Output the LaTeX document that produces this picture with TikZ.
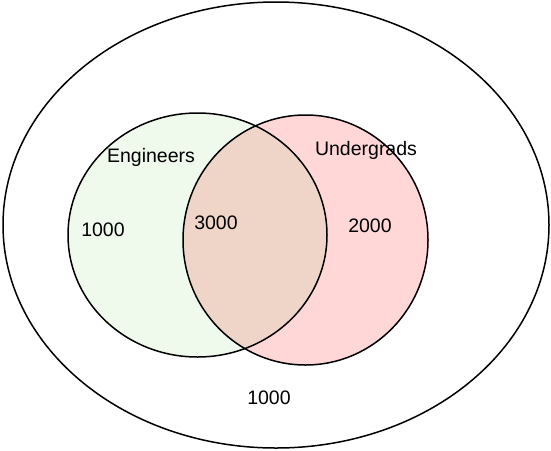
\documentclass[tikz,border=0pt]{standalone}
\usepackage{fontspec}
\setmainfont{Liberation Sans}
\usetikzlibrary{shapes.geometric}
\definecolor{enggreen}{HTML}{EFF9EC}
\definecolor{ugpink}{HTML}{FFD7D7}
\definecolor{overlapc}{HTML}{EFD5C8}
\tikzset{
  setline/.style={draw=black, line width=1.5pt, ellipse, inner sep=0pt},
  lbl/.style={anchor=base, inner sep=0pt, font=\fontsize{19.5}{22}\selectfont}
}
\begin{document}
\begin{tikzpicture}[x=1pt,y=-1pt]
\useasboundingbox (0,0) rectangle (551,450);
% fills
\fill[enggreen] (197.5,235) ellipse [x radius=129.5, y radius=122];
\fill[ugpink] (305.5,240) ellipse [x radius=122.5, y radius=125];
\begin{scope}
  \clip (197.5,235) ellipse [x radius=129.5, y radius=122];
  \fill[overlapc] (305.5,240) ellipse [x radius=122.5, y radius=125];
\end{scope}
% outlines
\node[setline, minimum width=546pt, minimum height=446pt] (all) at (276,225) {};
\node[setline, minimum width=259pt, minimum height=244pt] (eng) at (197.5,235) {};
\node[setline, minimum width=245pt, minimum height=250pt] (ug) at (305.5,240) {};
% labels
\node[lbl] (engl) at (151,162) {Engineers};
\node[lbl] (ugl) at (366,155) {Undergrads};
\node[lbl] (e1000) at (103,236) {1000};
\node[lbl] (b3000) at (216,229) {3000};
\node[lbl] (u2000) at (370,232) {2000};
\node[lbl] (o1000) at (269,404) {1000};
\end{tikzpicture}
\end{document}
